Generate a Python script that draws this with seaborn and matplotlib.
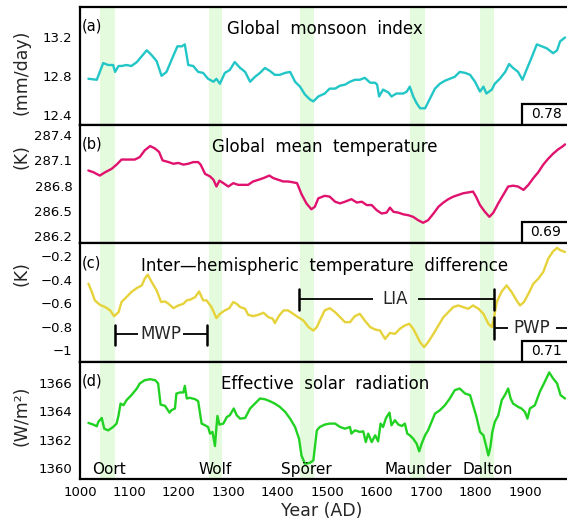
import matplotlib
matplotlib.use("Agg")
import matplotlib.pyplot as plt
import seaborn as sns
import numpy as np
from matplotlib.patches import Rectangle

# ---------------- data ----------------
years_a = [1017, 1034, 1040, 1047, 1057, 1067, 1071, 1078, 1084, 1094, 1104, 1115, 1125, 1135, 1145, 1155,
           1165, 1175, 1185, 1197, 1206, 1212, 1219, 1229, 1239, 1249, 1259, 1270, 1276, 1283, 1293, 1303,
           1313, 1324, 1334, 1344, 1354, 1364, 1374, 1384, 1394, 1404, 1415, 1425, 1435, 1445, 1455, 1465,
           1472, 1482, 1495, 1505, 1516, 1526, 1536, 1546, 1556, 1566, 1576, 1587, 1597, 1601, 1605, 1613,
           1624, 1630, 1640, 1654, 1661, 1667, 1674, 1681, 1688, 1698, 1708, 1718, 1728, 1738, 1748, 1758,
           1768, 1779, 1789, 1799, 1809, 1816, 1822, 1833, 1839, 1849, 1860, 1868, 1876, 1886, 1895, 1903,
           1913, 1924, 1934, 1944, 1957, 1965, 1971, 1981]
monsoon = [12.77, 12.76, 12.84, 12.93, 12.91, 12.91, 12.84, 12.90, 12.90, 12.91, 12.90, 12.94, 13.00, 13.06, 13.01, 12.95,
           12.80, 12.84, 12.96, 13.10, 13.10, 13.12, 12.91, 12.90, 12.84, 12.83, 12.77, 12.74, 12.77, 12.72, 12.83, 12.86,
           12.94, 12.88, 12.84, 12.74, 12.79, 12.83, 12.88, 12.85, 12.81, 12.81, 12.83, 12.84, 12.74, 12.69, 12.61, 12.56,
           12.54, 12.59, 12.62, 12.67, 12.67, 12.70, 12.71, 12.74, 12.76, 12.76, 12.78, 12.73, 12.73, 12.71, 12.59, 12.66,
           12.63, 12.59, 12.62, 12.62, 12.64, 12.69, 12.59, 12.52, 12.47, 12.47, 12.57, 12.67, 12.72, 12.75, 12.77, 12.79,
           12.84, 12.83, 12.81, 12.74, 12.64, 12.69, 12.62, 12.66, 12.72, 12.77, 12.84, 12.92, 12.88, 12.84, 12.76, 12.86,
           12.98, 13.12, 13.10, 13.08, 13.03, 13.06, 13.15, 13.19]

years_b = [1017, 1027, 1040, 1051, 1064, 1074, 1084, 1098, 1111, 1121, 1131, 1142, 1152, 1160, 1167, 1179,
           1189, 1199, 1209, 1219, 1229, 1239, 1244, 1253, 1263, 1270, 1276, 1282, 1290, 1300, 1310, 1320,
           1330, 1340, 1350, 1361, 1371, 1383, 1391, 1401, 1411, 1421, 1431, 1439, 1448, 1458, 1468, 1475,
           1482, 1495, 1505, 1516, 1526, 1536, 1549, 1560, 1570, 1580, 1590, 1600, 1610, 1620, 1627, 1634,
           1644, 1654, 1664, 1674, 1684, 1694, 1704, 1715, 1725, 1735, 1745, 1755, 1765, 1775, 1785, 1795,
           1801, 1809, 1819, 1828, 1836, 1846, 1856, 1866, 1876, 1886, 1897, 1907, 1917, 1927, 1937, 1947,
           1957, 1967, 1977, 1981]
temperature = [286.98, 286.96, 286.92, 286.96, 287.00, 287.05, 287.11, 287.11, 287.11, 287.14, 287.22, 287.27, 287.24, 287.20, 287.10, 287.08,
               287.06, 287.07, 287.05, 287.06, 287.08, 287.08, 287.05, 286.94, 286.91, 286.87, 286.79, 286.86, 286.83, 286.79, 286.83, 286.81,
               286.81, 286.81, 286.85, 286.87, 286.89, 286.92, 286.89, 286.87, 286.85, 286.85, 286.84, 286.83, 286.70, 286.59, 286.52, 286.55,
               286.65, 286.68, 286.67, 286.61, 286.59, 286.61, 286.64, 286.60, 286.61, 286.57, 286.57, 286.51, 286.47, 286.48, 286.54, 286.49,
               286.48, 286.46, 286.45, 286.43, 286.39, 286.36, 286.39, 286.47, 286.55, 286.60, 286.64, 286.67, 286.69, 286.71, 286.72, 286.73,
               286.67, 286.57, 286.49, 286.43, 286.48, 286.59, 286.69, 286.79, 286.80, 286.79, 286.75, 286.81, 286.89, 286.96, 287.05, 287.12,
               287.18, 287.23, 287.27, 287.29]

years_c = [1017, 1024, 1030, 1040, 1051, 1061, 1069, 1078, 1084, 1094, 1104, 1115, 1125, 1131, 1137, 1145,
           1155, 1164, 1172, 1179, 1189, 1199, 1209, 1216, 1224, 1233, 1241, 1249, 1256, 1266, 1276, 1283,
           1293, 1302, 1310, 1317, 1324, 1334, 1340, 1350, 1361, 1371, 1381, 1390, 1394, 1403, 1412, 1421,
           1431, 1441, 1452, 1462, 1472, 1479, 1485, 1495, 1505, 1516, 1526, 1536, 1546, 1556, 1566, 1576,
           1587, 1597, 1607, 1617, 1627, 1637, 1647, 1657, 1666, 1674, 1681, 1688, 1696, 1704, 1715, 1725,
           1735, 1745, 1755, 1765, 1775, 1785, 1795, 1806, 1816, 1826, 1833, 1837, 1843, 1853, 1863, 1873,
           1883, 1890, 1898, 1907, 1917, 1927, 1937, 1947, 1957, 1965, 1972, 1981]
hemi_diff = [-0.435, -0.506, -0.577, -0.614, -0.634, -0.662, -0.711, -0.677, -0.591, -0.549, -0.506, -0.472, -0.450, -0.393, -0.359, -0.421,
             -0.492, -0.591, -0.586, -0.606, -0.643, -0.620, -0.606, -0.577, -0.569, -0.549, -0.501, -0.577, -0.577, -0.634, -0.728, -0.691,
             -0.662, -0.643, -0.591, -0.606, -0.634, -0.648, -0.699, -0.711, -0.699, -0.682, -0.719, -0.733, -0.770, -0.705, -0.662, -0.662,
             -0.691, -0.719, -0.748, -0.804, -0.833, -0.804, -0.748, -0.662, -0.643, -0.677, -0.719, -0.762, -0.762, -0.711, -0.691, -0.748,
             -0.804, -0.824, -0.833, -0.904, -0.853, -0.861, -0.818, -0.790, -0.776, -0.818, -0.875, -0.932, -0.974, -0.932, -0.861, -0.790,
             -0.719, -0.677, -0.634, -0.620, -0.634, -0.648, -0.620, -0.648, -0.691, -0.776, -0.804, -0.733, -0.591, -0.501, -0.450, -0.506,
             -0.577, -0.620, -0.591, -0.521, -0.435, -0.393, -0.336, -0.223, -0.160, -0.132, -0.152, -0.166]

years_d = [1017, 1027, 1034, 1037, 1044, 1049, 1057, 1067, 1074, 1078, 1082, 1088, 1094, 1104, 1115, 1121,
           1131, 1142, 1152, 1158, 1163, 1172, 1181, 1185, 1192, 1195, 1202, 1209, 1212, 1216, 1222, 1233,
           1239, 1246, 1253, 1259, 1263, 1268, 1273, 1276, 1278, 1282, 1290, 1297, 1303, 1311, 1317, 1324,
           1334, 1344, 1354, 1364, 1374, 1384, 1394, 1404, 1415, 1425, 1435, 1443, 1448, 1455, 1465, 1472,
           1479, 1485, 1495, 1505, 1516, 1526, 1536, 1546, 1549, 1556, 1566, 1573, 1578, 1583, 1590, 1597,
           1603, 1608, 1613, 1619, 1626, 1630, 1637, 1644, 1651, 1657, 1662, 1667, 1674, 1681, 1686, 1691,
           1698, 1704, 1715, 1718, 1728, 1738, 1748, 1758, 1768, 1779, 1789, 1795, 1802, 1809, 1816, 1822,
           1826, 1830, 1834, 1839, 1846, 1853, 1860, 1866, 1871, 1876, 1886, 1893, 1900, 1905, 1910, 1920,
           1930, 1940, 1949, 1957, 1965, 1972, 1981]
solar = [1363.18, 1363.06, 1362.94, 1363.25, 1363.53, 1362.77, 1362.65, 1362.89, 1363.13, 1363.72, 1364.55, 1364.43, 1364.79, 1365.15, 1365.62, 1365.98,
         1366.21, 1366.28, 1366.21, 1365.98, 1364.48, 1364.39, 1363.91, 1364.08, 1364.20, 1365.26, 1365.34, 1365.34, 1365.81, 1364.91, 1364.96, 1364.86,
         1364.72, 1363.13, 1363.01, 1362.89, 1362.42, 1362.54, 1361.54, 1362.89, 1363.67, 1363.06, 1363.13, 1363.60, 1363.72, 1364.20, 1363.72, 1363.48,
         1363.53, 1364.20, 1364.55, 1364.91, 1364.86, 1364.72, 1364.55, 1364.32, 1363.96, 1363.48, 1362.89, 1362.06, 1360.87, 1360.28, 1360.35, 1360.52,
         1362.65, 1362.89, 1363.06, 1363.13, 1363.13, 1362.89, 1362.77, 1362.89, 1362.42, 1362.65, 1362.54, 1362.58, 1361.82, 1362.42, 1361.82, 1362.30,
         1361.87, 1363.13, 1362.89, 1363.53, 1363.91, 1363.01, 1363.37, 1363.06, 1362.96, 1363.13, 1362.42, 1362.30, 1362.06, 1361.70, 1361.16, 1361.70,
         1362.30, 1362.65, 1363.60, 1363.84, 1364.08, 1364.43, 1364.91, 1365.50, 1365.62, 1365.26, 1365.15, 1364.43, 1363.60, 1362.54, 1362.30, 1361.47,
         1360.87, 1361.47, 1362.54, 1363.25, 1363.72, 1364.79, 1365.19, 1365.62, 1364.91, 1364.55, 1364.32, 1364.20, 1363.96, 1363.48, 1364.20, 1364.43,
         1365.38, 1366.09, 1366.76, 1366.33, 1365.98, 1365.15, 1364.91]

titles = ["Global  monsoon  index", "Global  mean  temperature",
          "Inter\u2014hemispheric  temperature  difference", "Effective  solar  radiation"]
panel_letters = ["(a)", "(b)", "(c)", "(d)"]
ylabels = ["(mm/day)", "(K)", "(K)", "(W/m\u00b2)"]
correlations = ["0.78", "0.69", "0.71", None]
yticks = [[12.4, 12.8, 13.2], [286.2, 286.5, 286.8, 287.1, 287.4],
          [-1.0, -0.8, -0.6, -0.4, -0.2], [1360, 1362, 1364, 1366]]
yticklabels = [["12.4", "12.8", "13.2"], ["286.2", "286.5", "286.8", "287.1", "287.4"],
               ["\u22121", "\u22120.8", "\u22120.6", "\u22120.4", "\u22120.2"],
               ["1360", "1362", "1364", "1366"]]
ylims = [(12.30, 13.50), (286.12, 287.52), (-1.10, -0.09), (1359.2, 1367.5)]
xticks = [1000, 1100, 1200, 1300, 1400, 1500, 1600, 1700, 1800, 1900]

minima_names = ["Oort", "Wolf", "Sp\u00f6rer", "Maunder", "Dalton"]
minima_start = [1040, 1260, 1445, 1667, 1810]
minima_end = [1070, 1287, 1473, 1697, 1838]
minima_label_x = [1058, 1273, 1457, 1684, 1824]

colors = ["#22c6c6", "#e0126e", "#e6d23a", "#22d222"]
band_color = "#e4fbdd"

# ---------------- figure ----------------
sns.set_theme(style="white")
plt.rcParams["font.family"] = ["DejaVu Sans"]
plt.rcParams["axes.linewidth"] = 1.6

W, H = 567, 524
fig = plt.figure(figsize=(W / 100, H / 100), dpi=100)

left_px, right_px = 80, 573
panel_px = [(7, 125), (125, 243), (243, 362), (362, 479)]
xmax = 1000 + (right_px - left_px) / 0.4944

series = [(years_a, monsoon), (years_b, temperature), (years_c, hemi_diff), (years_d, solar)]
axes = []
for i, (top, bot) in enumerate(panel_px):
    ax = fig.add_axes([left_px / W, 1 - bot / H, (right_px - left_px) / W, (bot - top) / H])
    axes.append(ax)
    for s, e in zip(minima_start, minima_end):
        ax.axvspan(s, e, color=band_color, lw=0, zorder=0)
    xs, ys = series[i]
    sns.lineplot(x=xs, y=ys, ax=ax, color=colors[i], linewidth=1.7, zorder=3)
    ax.set_xlim(1000, xmax)
    ax.set_ylim(*ylims[i])
    ax.set_yticks(yticks[i])
    ax.set_yticklabels(yticklabels[i])
    ax.set_xticks(xticks)
    ax.tick_params(axis="y", direction="out", length=4, width=1.2, pad=1.5, labelsize=9.5, colors="black")
    ax.tick_params(axis="x", direction="in", length=3, width=1, pad=5, labelsize=9.5, colors="black")
    if i < 3:
        ax.set_xticklabels([])
    for sp in ax.spines.values():
        sp.set_color("black")
        sp.set_linewidth(1.6)
    ax.set_xlabel("")
    ax.set_ylabel("")
    ax.text(0.497, 0.81, titles[i], transform=ax.transAxes, ha="center", va="center",
            fontsize=12, color="black")
    ax.text(0.003, 0.835, panel_letters[i], transform=ax.transAxes, ha="left", va="center",
            fontsize=10.5, color="black")
    if correlations[i] is not None:
        ax.add_patch(Rectangle((0.8966, 0.0), 0.2, 21 / 118, transform=ax.transAxes,
                               facecolor="white", edgecolor="black", lw=1.6, zorder=5, clip_on=False))
        ax.text((546 - left_px) / (right_px - left_px), 10.5 / 118, correlations[i], transform=ax.transAxes,
                ha="center", va="center", fontsize=10, color="black", zorder=6)

# y labels
ylabel_y_px = [72, 157, 274, 416]
for lab, ypx in zip(ylabels, ylabel_y_px):
    fig.text(22 / W, 1 - ypx / H, lab, rotation=90, ha="center", va="center", fontsize=12.5)

fig.text(322 / W, 1 - 511 / H, "Year (AD)", ha="center", va="center", fontsize=12.5)

# minima labels
axd = axes[3]
for name, xc in zip(minima_names, minima_label_x):
    axd.text(xc, 0.08, name, transform=axd.get_xaxis_transform(), ha="center", va="center",
             fontsize=11, color="black", zorder=6)

# period brackets in panel (c)
axc = axes[2]
kw = dict(color="black", lw=1.3, zorder=4, solid_capstyle="butt")
# MWP
axc.plot([1071, 1118], [-0.861, -0.861], **kw)
axc.plot([1208, 1256], [-0.861, -0.861], **kw)
axc.plot([1071, 1071], [-0.785, -0.955], color="black", lw=1.8, zorder=4)
axc.plot([1256, 1256], [-0.785, -0.955], color="black", lw=1.8, zorder=4)
axc.text(1163, -0.861, "MWP", ha="center", va="center", fontsize=12, zorder=6)
# LIA
axc.plot([1443, 1592], [-0.568, -0.568], **kw)
axc.plot([1684, 1837], [-0.568, -0.568], **kw)
axc.plot([1443, 1443], [-0.478, -0.660], color="black", lw=1.8, zorder=4)
axc.plot([1837, 1837], [-0.478, -0.660], color="black", lw=1.8, zorder=4)
axc.text(1638, -0.568, "LIA", ha="center", va="center", fontsize=12, zorder=6)
# PWP
axc.plot([1837, 1866], [-0.813, -0.813], **kw)
axc.plot([1962, 2010], [-0.813, -0.813], clip_on=False, **kw)
axc.plot([1837, 1837], [-0.719, -0.904], color="black", lw=1.8, zorder=4)
axc.text(1914, -0.813, "PWP", ha="center", va="center", fontsize=12, zorder=6)

fig.savefig("out.png", dpi=100)
